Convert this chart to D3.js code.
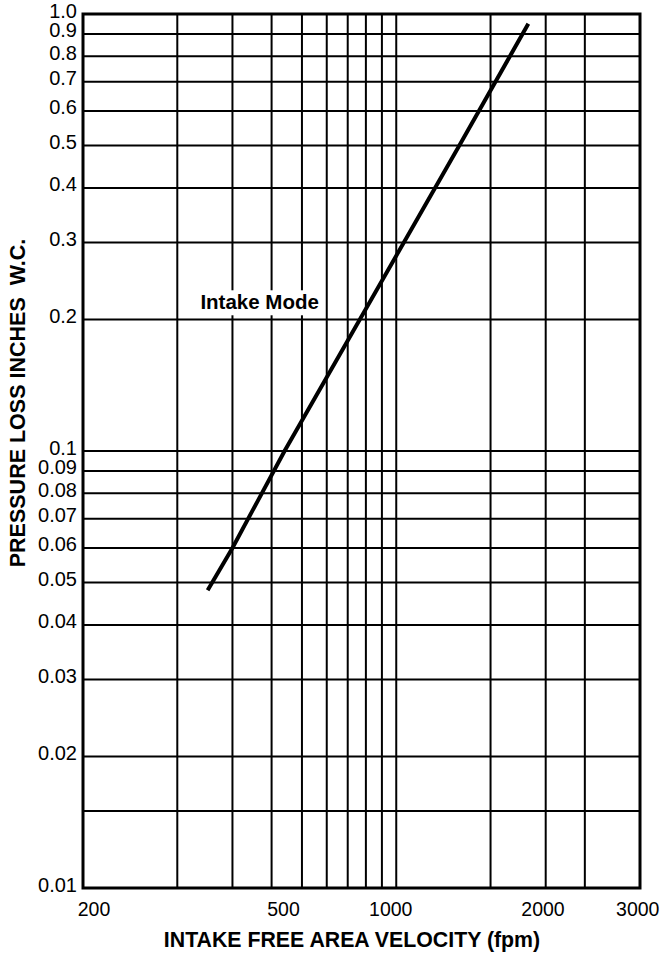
<!DOCTYPE html>
<html>
<head>
<meta charset="utf-8">
<script src="https://cdn.jsdelivr.net/npm/d3@7/dist/d3.min.js"></script>
<style>
body { margin: 0; background: #fff; }
svg { display: block; }
text { font-family: "Liberation Sans", Arial, Helvetica, sans-serif; }
</style>
</head>
<body>
<div id="chart"></div>
<script>
// Log paper grid (velocity lines, pressure lines)
var xGrid = [200, 300, 400, 500, 600, 700, 800, 900, 1000, 2000, 3000, 4000];
var yGrid = [0.015, 0.02, 0.03, 0.04, 0.05, 0.06, 0.07, 0.08, 0.09, 0.1,
             0.2, 0.3, 0.4, 0.5, 0.6, 0.7, 0.8, 0.9];

// Printed tick labels
var yTicks = [0.01, 0.02, 0.03, 0.04, 0.05, 0.06, 0.07, 0.08, 0.09, 0.1,
              0.2, 0.3, 0.4, 0.5, 0.6, 0.7, 0.8, 0.9, 1.0];
var xTickLabels = ["200", "500", "1000", "2000", "3000"];
var xTickAt = [108, 435, 957, 2930, 5880];   // where each printed label sits on the paper

// Intake mode curve
var lineX = [250, 300, 440, 765, 1590, 2640];
var lineY = [0.048, 0.06, 0.1, 0.2, 0.5, 0.95];

var W = 662, H = 953;
var margin = {top: 14, right: 22, bottom: 65, left: 83};
var w = W - margin.left - margin.right,
    h = H - margin.top - margin.bottom;

var svg = d3.select("#chart").append("svg")
    .attr("width", W)
    .attr("height", H);

var g = svg.append("g")
    .attr("transform", "translate(" + margin.left + "," + margin.top + ")");

var x = d3.scaleLog().domain([100, 6000]).range([0, w]);
var y = d3.scaleLog().domain([0.01, 1]).range([h, 0]);

// grid
g.append("g")
    .attr("class", "grid")
    .selectAll("line.v")
    .data(xGrid)
    .enter().append("line")
    .attr("x1", function(d){ return x(d); })
    .attr("x2", function(d){ return x(d); })
    .attr("y1", 0)
    .attr("y2", h)
    .style("stroke", "#000")
    .style("stroke-width", "2px");

g.append("g")
    .attr("class", "grid")
    .selectAll("line.h")
    .data(yGrid)
    .enter().append("line")
    .attr("x1", 0)
    .attr("x2", w)
    .attr("y1", function(d){ return y(d); })
    .attr("y2", function(d){ return y(d); })
    .style("stroke", "#000")
    .style("stroke-width", "2px");

// axis labels
var fmt = function(d){ return d >= 0.1 ? d3.format(".1f")(d) : d3.format(".2f")(d); };

var yAxis = g.append("g")
    .call(d3.axisLeft(y).tickValues(yTicks).tickFormat(fmt).tickSize(0).tickPadding(6))
    .attr("font-family", null)
    .attr("font-size", null);
yAxis.select(".domain").remove();
yAxis.selectAll("text")
    .attr("dy", "0.15em")
    .style("font-size", "20px")
    .style("fill", "#000");

var xAxis = g.append("g")
    .attr("transform", "translate(0," + h + ")")
    .call(d3.axisBottom(x).tickValues(xTickAt)
        .tickFormat(function(d, i){ return xTickLabels[i]; })
        .tickSize(0).tickPadding(14))
    .attr("font-family", null)
    .attr("font-size", null);
xAxis.select(".domain").remove();
xAxis.selectAll("text")
    .style("font-size", "19.5px")
    .style("fill", "#000");

// frame
g.append("rect")
    .attr("x", 0)
    .attr("y", 0)
    .attr("width", w)
    .attr("height", h)
    .style("fill", "none")
    .style("stroke", "#000")
    .style("stroke-width", "3px");

// curve
var pts = lineX.map(function(d, i){ return [d, lineY[i]]; });
g.append("path")
    .datum(pts)
    .attr("d", d3.line().x(function(d){ return x(d[0]); }).y(function(d){ return y(d[1]); }))
    .style("fill", "none")
    .style("stroke", "#000")
    .style("stroke-width", "4px");

// annotation
var note = g.append("g");
var noteText = note.append("text")
    .attr("x", x(237))
    .attr("y", y(0.211))
    .style("font-size", "20.5px")
    .style("font-weight", "bold")
    .text("Intake Mode");
var bb = noteText.node().getBBox();
note.insert("rect", "text")
    .attr("x", bb.x - 3)
    .attr("y", bb.y)
    .attr("width", bb.width + 6)
    .attr("height", bb.height + 2)
    .style("fill", "#fff");

// titles
svg.append("text")
    .attr("x", 352)
    .attr("y", 947)
    .attr("text-anchor", "middle")
    .style("font-size", "21.3px")
    .style("font-weight", "bold")
    .text("INTAKE FREE AREA VELOCITY (fpm)");

svg.append("text")
    .attr("transform", "translate(25,403) rotate(-90)")
    .attr("text-anchor", "middle")
    .style("font-size", "21.5px")
    .style("font-weight", "bold")
    .style("white-space", "pre")
    .text("PRESSURE LOSS INCHES  W.C.");
</script>
</body>
</html>
